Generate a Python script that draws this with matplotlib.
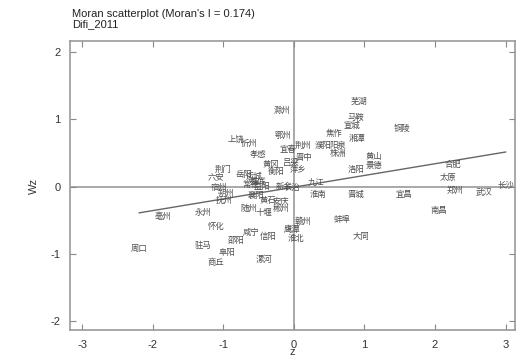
import numpy as np
import matplotlib.pyplot as plt

# city labels with standardized value (z) and spatial lag (Wz)
cities = ["滁州", "芜湖", "马鞍", "宣城", "铜陵", "焦作", "湘潭", "鄂州", "荆州", "濮阳",
          "阳泉", "株洲", "黄山", "景德", "洛阳", "九江", "合肥", "太原", "郑州", "武汉",
          "长沙", "南昌", "宜昌", "晋城", "淮南", "蚌埠", "大同", "赣州", "鹰潭", "淮北",
          "漯河", "安庆", "襄阳", "随州", "十堰", "郴州", "亳州", "永州", "怀化", "驻马",
          "邵阳", "阜阳", "商丘", "咸宁", "信阳", "周口", "上饶", "忻州", "孝感", "宜春",
          "晋中", "吕梁", "萍乡", "荆门", "六安", "宿州", "抚州", "黄冈", "衡阳", "岳阳",
          "运城", "常德", "娄底", "益阳", "新余", "长治", "黄石", "朔州"]
z = [-0.16, 0.92, 0.88, 0.82, 1.54, 0.57, 0.90, -0.16, 0.13, 0.42,
     0.62, 0.62, 1.13, 1.13, 0.88, 0.31, 2.26, 2.18, 2.29, 2.69,
     3.00, 2.05, 1.56, 0.88, 0.34, 0.69, 0.95, 0.13, -0.03, 0.03,
     -0.42, -0.18, -0.54, -0.64, -0.42, -0.18, -1.85, -1.29, -1.10, -1.29,
     -0.81, -0.95, -1.10, -0.61, -0.37, -2.19, -0.82, -0.64, -0.50, -0.08,
     0.14, -0.04, 0.06, -1.00, -1.10, -1.06, -0.99, -0.32, -0.25, -0.71,
     -0.57, -0.61, -0.51, -0.45, -0.14, -0.03, -0.36, -0.96]
wz = [1.13, 1.26, 1.03, 0.91, 0.86, 0.79, 0.71, 0.76, 0.61, 0.61,
      0.61, 0.49, 0.45, 0.31, 0.25, 0.06, 0.33, 0.13, -0.06, -0.09,
      0.03, -0.36, -0.12, -0.12, -0.12, -0.49, -0.74, -0.52, -0.64, -0.77,
      -1.09, -0.21, -0.13, -0.33, -0.39, -0.33, -0.45, -0.39, -0.59, -0.88,
      -0.80, -0.98, -1.13, -0.68, -0.74, -0.92, 0.70, 0.64, 0.48, 0.55,
      0.43, 0.36, 0.25, 0.25, 0.15, -0.01, -0.21, 0.33, 0.22, 0.18,
      0.15, 0.03, 0.07, 0.00, 0.00, -0.02, -0.21, -0.10]

moran_i = 0.174
intercept = -0.01
x_ticks = [-3, -2, -1, 0, 1, 2, 3]
y_ticks = [-2, -1, 0, 1, 2]

plt.rcParams['font.family'] = ['Liberation Sans', 'DejaVu Sans']
plt.rcParams['axes.unicode_minus'] = False

fig = plt.figure(figsize=(5.16, 3.58), dpi=100)
ax = fig.add_axes([0.1357, 0.0782, 0.8633, 0.8073])

# reference lines through the origin
ax.axhline(0, color='#999999', lw=1.2, zorder=1)
ax.axvline(0, color='#999999', lw=1.2, zorder=1)

# regression line, slope = Moran's I
xs = np.array([min(z), max(z)])
ax.plot(xs, moran_i * xs + intercept, color='#666666', lw=1.0, zorder=2)

for name, x, y in zip(cities, z, wz):
    ax.text(x, y, name, ha='center', va='center', fontsize=6, color='#4d4d4d',
            family=['Noto Sans CJK SC', 'DejaVu Sans'], zorder=3)

ax.set_xlim(-3.17, 3.14)
ax.set_ylim(-2.13, 2.16)
ax.set_xticks(x_ticks)
ax.set_yticks(y_ticks)
ax.tick_params(direction='in', length=4, width=0.8, color='#888888',
               top=True, right=True, labelsize=8, labelcolor='#333333', pad=7)
for s in ax.spines.values():
    s.set_color('#999999')
    s.set_linewidth(1.2)

ax.set_xlabel('z', fontsize=8, color='#333333', labelpad=-2)
ax.set_ylabel('Wz', fontsize=8, color='#333333', labelpad=8)

fig.text(0.14, 0.975, "Moran scatterplot (Moran's I = 0.174)\nDifi_2011",
         ha='left', va='top', fontsize=8, color='#222222', linespacing=1.0)

fig.savefig('out.png', dpi=100)
